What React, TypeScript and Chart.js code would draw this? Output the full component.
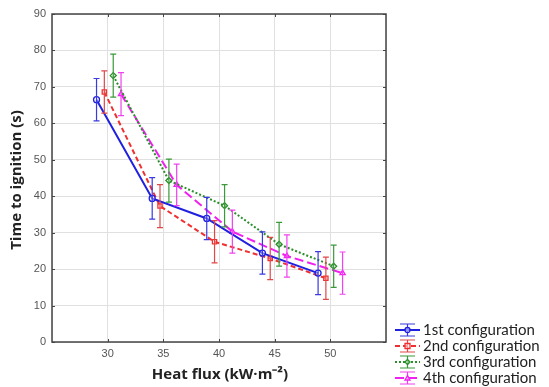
import React, { useEffect, useRef } from 'react';
import { Chart, registerables } from 'chart.js';
Chart.register(...registerables);

const seriesNames = ['1st configuration', '2nd configuration', '3rd configuration', '4th configuration'];
const heatFlux1 = [29.0, 34.0, 38.9, 43.9, 48.9];
const time1 = [66.5, 39.4, 33.9, 24.4, 18.9];
const err1 = [5.8, 5.7, 5.8, 5.8, 5.9];
const heatFlux2 = [29.7, 34.7, 39.6, 44.6, 49.6];
const time2 = [68.6, 37.3, 27.5, 22.9, 17.5];
const err2 = [5.8, 5.9, 5.8, 5.8, 5.8];
const heatFlux3 = [30.5, 35.5, 40.5, 45.4, 50.3];
const time3 = [73.1, 44.3, 37.4, 26.8, 20.8];
const err3 = [5.9, 5.9, 5.8, 6.0, 5.8];
const heatFlux4 = [31.2, 36.2, 41.2, 46.1, 51.1];
const time4 = [68.0, 43.1, 30.3, 23.6, 18.9];
const err4 = [5.9, 5.7, 5.9, 5.8, 5.8];
const xTicks = [30, 35, 40, 45, 50];
const yTicks = [0, 10, 20, 30, 40, 50, 60, 70, 80, 90];

const X_LIST = [heatFlux1, heatFlux2, heatFlux3, heatFlux4];
const Y_LIST = [time1, time2, time3, time4];
const ERRS = [err1, err2, err3, err4];
const COLORS = ['#2020e0', '#f03030', '#2a8f2a', '#f020f0'];
const ERR_COLORS = ['#3a3ae0', '#e04848', '#3a9a3a', '#f040f0'];
const DASHES: number[][] = [[], [5, 3], [2, 2], [9, 4]];
const POINT_STYLES = ['circle', 'rect', 'rectRot', 'triangle'];

const FONT = '"Open Sans", "Liberation Sans", Arial, sans-serif';
const TICK_FONT = '"Liberation Sans", Arial, sans-serif';
const LEGEND_FONT = 'Lato, "Open Sans", sans-serif';

function drawMarker(ctx: CanvasRenderingContext2D, style: string, x: number, y: number, r: number) {
  ctx.beginPath();
  if (style === 'circle') ctx.arc(x, y, r, 0, Math.PI * 2);
  else if (style === 'rect') ctx.rect(x - r, y - r, 2 * r, 2 * r);
  else if (style === 'rectRot') { ctx.moveTo(x, y - r); ctx.lineTo(x + r, y); ctx.lineTo(x, y + r); ctx.lineTo(x - r, y); ctx.closePath(); }
  else { ctx.moveTo(x, y - r); ctx.lineTo(x + r, y + r * 0.8); ctx.lineTo(x - r, y + r * 0.8); ctx.closePath(); }
  ctx.fill();
  ctx.stroke();
}

const customPlugin = {
  id: 'custom',
  afterDatasetsDraw(chart: any) {
    const { ctx, scales } = chart;
    const x = scales.x, y = scales.y;
    chart.data.datasets.forEach((ds: any, i: number) => {
      const errs = ERRS[i];
      ctx.save();
      ctx.strokeStyle = ERR_COLORS[i];
      ctx.lineWidth = 1.2;
      ds.data.forEach((p: any, j: number) => {
        const px = x.getPixelForValue(p.x);
        const top = y.getPixelForValue(p.y + errs[j]);
        const bot = y.getPixelForValue(p.y - errs[j]);
        ctx.beginPath();
        ctx.moveTo(px, top); ctx.lineTo(px, bot);
        ctx.moveTo(px - 3, top); ctx.lineTo(px + 3, top);
        ctx.moveTo(px - 3, bot); ctx.lineTo(px + 3, bot);
        ctx.stroke();
      });
      ctx.restore();
    });
  },
  afterDraw(chart: any) {
    const { ctx, chartArea: a, scales } = chart;
    ctx.save();
    // frame
    ctx.strokeStyle = '#444';
    ctx.lineWidth = 1.5;
    ctx.strokeRect(a.left, a.top, a.right - a.left, a.bottom - a.top);
    // inward tick marks
    ctx.lineWidth = 1;
    ctx.beginPath();
    xTicks.forEach((v) => {
      const px = Math.round(scales.x.getPixelForValue(v)) + 0.5;
      ctx.moveTo(px, a.top); ctx.lineTo(px, a.top + 3);
      ctx.moveTo(px, a.bottom); ctx.lineTo(px, a.bottom - 3);
    });
    yTicks.forEach((v) => {
      const py = Math.round(scales.y.getPixelForValue(v)) + 0.5;
      ctx.moveTo(a.left, py); ctx.lineTo(a.left + 3, py);
      ctx.moveTo(a.right, py); ctx.lineTo(a.right - 3, py);
    });
    ctx.stroke();
    // axis titles
    ctx.fillStyle = '#222';
    ctx.font = `bold 15px ${FONT}`;
    ctx.textAlign = 'center';
    ctx.textBaseline = 'middle';
    ctx.fillText('Heat flux (kW·m⁻²)', 220, 375);
    ctx.save();
    ctx.translate(17, 180);
    ctx.rotate(-Math.PI / 2);
    ctx.fillText('Time to ignition (s)', 0, 0);
    ctx.restore();
    // legend
    ctx.font = `15px ${LEGEND_FONT}`;
    ctx.textAlign = 'left';
    const rows = [330, 346, 362, 378];
    seriesNames.forEach((name, i) => {
      const yy = rows[i];
      ctx.strokeStyle = COLORS[i];
      ctx.lineWidth = 2;
      ctx.setLineDash(DASHES[i]);
      ctx.beginPath(); ctx.moveTo(395, yy); ctx.lineTo(420, yy); ctx.stroke();
      ctx.setLineDash([]);
      ctx.strokeStyle = ERR_COLORS[i];
      ctx.lineWidth = 1.2;
      ctx.beginPath();
      ctx.moveTo(407.5, yy - 6); ctx.lineTo(407.5, yy + 6);
      ctx.moveTo(400, yy - 6); ctx.lineTo(415, yy - 6);
      ctx.moveTo(400, yy + 6); ctx.lineTo(415, yy + 6);
      ctx.stroke();
      ctx.fillStyle = 'rgba(255,255,255,0.5)';
      ctx.strokeStyle = COLORS[i];
      ctx.lineWidth = 1.3;
      drawMarker(ctx, POINT_STYLES[i], 407.5, yy, 2.5);
      ctx.fillStyle = '#222';
      ctx.fillText(name, 423, yy);
    });
    ctx.restore();
  },
};

export default function App() {
  const ref = useRef<HTMLCanvasElement>(null);
  useEffect(() => {
    if (!ref.current) return;
    const datasets = seriesNames.map((name, i) => ({
      label: name,
      data: X_LIST[i].map((xv, j) => ({ x: xv, y: Y_LIST[i][j] })),
      borderColor: COLORS[i],
      backgroundColor: 'rgba(255,255,255,0.4)',
      pointBackgroundColor: 'rgba(255,255,255,0.4)',
      pointBorderColor: COLORS[i],
      pointStyle: POINT_STYLES[i] as any,
      pointRadius: 3,
      pointBorderWidth: 1.3,
      borderWidth: 2,
      borderDash: DASHES[i],
      showLine: true,
      tension: 0,
    }));
    const chart = new Chart(ref.current, {
      type: 'scatter',
      data: { datasets },
      plugins: [customPlugin],
      options: {
        animation: false,
        responsive: false,
        layout: { padding: { left: 0, top: 14, right: 163, bottom: 0 } },
        plugins: { legend: { display: false }, tooltip: { enabled: false } },
        scales: {
          x: {
            type: 'linear',
            min: 25,
            max: 55,
            afterFit: (s: any) => { s.height = 45; },
            afterBuildTicks: (s: any) => { s.ticks = [25, ...xTicks, 55].map((v) => ({ value: v })); },
            ticks: {
              stepSize: 5,
              padding: 5,
              color: '#555',
              font: { size: 11, family: TICK_FONT },
              callback: (v: any) => (xTicks.includes(Number(v)) ? String(v) : ''),
            },
            grid: { color: '#e0e0e0', drawTicks: false },
            border: { display: false },
          },
          y: {
            min: 0,
            max: 90,
            afterFit: (s: any) => { s.width = 52; },
            afterBuildTicks: (s: any) => { s.ticks = yTicks.map((v) => ({ value: v })); },
            ticks: {
              stepSize: 10,
              padding: 6,
              color: '#555',
              font: { size: 11, family: TICK_FONT },
            },
            grid: { color: '#e0e0e0', drawTicks: false },
            border: { display: false },
          },
        },
      },
    });
    return () => chart.destroy();
  }, []);
  return (
    <div style={{ position: 'absolute', left: 0, top: 0, width: 549, height: 387, background: '#fff' }}>
      <canvas ref={ref} width={549} height={387} style={{ width: 549, height: 387, display: 'block' }} />
    </div>
  );
}
